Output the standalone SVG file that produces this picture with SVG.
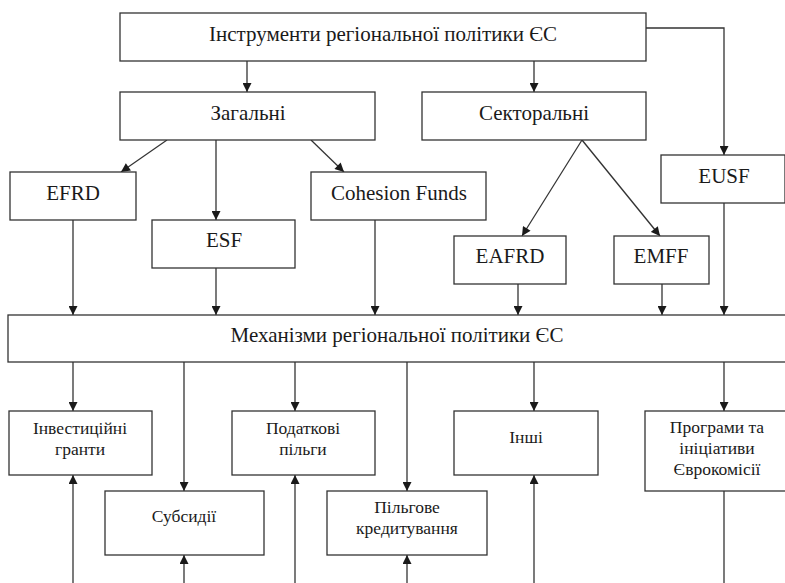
<svg xmlns="http://www.w3.org/2000/svg" width="785" height="583" viewBox="0 0 785 583">
<defs>
<marker id="ah" viewBox="0 0 10 10" refX="10" refY="5" markerWidth="10" markerHeight="9" markerUnits="userSpaceOnUse" orient="auto">
<path d="M0,0 L10,5 L0,10 z" fill="#1a1a1a"/>
</marker>
<style>
.b{fill:#fff;stroke:#333;stroke-width:1.3}
text{font-family:'Liberation Serif','DejaVu Serif',serif;fill:#1a1a1a;text-anchor:middle}
.t{font-size:21px}
.s{font-size:17.5px}
.c{fill:none;stroke:#333;stroke-width:1.3}
.a{marker-end:url(#ah)}
</style>
</defs>
<rect width="785" height="583" fill="#fff"/>
<g id="connectors">
<line class="c a" x1="247" y1="61" x2="247" y2="92"/>
<line class="c a" x1="534" y1="61" x2="534" y2="92"/>
<polyline class="c a" points="646,28 724,28 724,155"/>
<line class="c a" x1="167" y1="140" x2="121" y2="172"/>
<line class="c a" x1="216" y1="140" x2="216" y2="220"/>
<line class="c a" x1="311" y1="140" x2="344" y2="172"/>
<line class="c a" x1="582" y1="140" x2="522" y2="236"/>
<line class="c a" x1="582" y1="140" x2="660" y2="236"/>
<line class="c a" x1="73" y1="220" x2="73" y2="315"/>
<line class="c a" x1="216" y1="268" x2="216" y2="315"/>
<line class="c a" x1="375" y1="220" x2="375" y2="315"/>
<line class="c a" x1="518" y1="284" x2="518" y2="315"/>
<line class="c a" x1="662" y1="284" x2="662" y2="315"/>
<line class="c a" x1="724" y1="203" x2="724" y2="315"/>
<line class="c a" x1="73" y1="362" x2="73" y2="411"/>
<line class="c a" x1="184" y1="362" x2="184" y2="491"/>
<line class="c a" x1="295" y1="362" x2="295" y2="411"/>
<line class="c a" x1="407" y1="362" x2="407" y2="491"/>
<line class="c a" x1="534" y1="362" x2="534" y2="411"/>
<line class="c a" x1="724" y1="362" x2="724" y2="411"/>
<line class="c a" x1="73" y1="583" x2="73" y2="475"/>
<line class="c a" x1="184" y1="583" x2="184" y2="555"/>
<line class="c a" x1="295" y1="583" x2="295" y2="475"/>
<line class="c a" x1="407" y1="583" x2="407" y2="555"/>
<line class="c a" x1="534" y1="583" x2="534" y2="475"/>
<line class="c" x1="724" y1="491" x2="724" y2="583"/>
</g>
<g id="n-top"><rect class="b" x="120" y="13" width="526" height="48"/><text class="t" x="383" y="41">Інструменти регіональної політики ЄС</text></g>
<g id="n-zag"><rect class="b" x="120" y="92" width="255" height="48"/><text class="t" x="248" y="120">Загальні</text></g>
<g id="n-sek"><rect class="b" x="422" y="92" width="224" height="48"/><text class="t" x="534" y="120">Секторальні</text></g>
<g id="n-efrd"><rect class="b" x="10" y="172" width="126" height="48"/><text class="t" x="73" y="200">EFRD</text></g>
<g id="n-esf"><rect class="b" x="152" y="220" width="143" height="48"/><text class="t" x="224" y="247">ESF</text></g>
<g id="n-coh"><rect class="b" x="311" y="172" width="175" height="48"/><text class="t" x="399" y="200">Cohesion Funds</text></g>
<g id="n-eusf"><rect class="b" x="661" y="155" width="124" height="48"/><text class="t" x="724" y="183">EUSF</text></g>
<g id="n-eafrd"><rect class="b" x="454" y="236" width="112" height="48"/><text class="t" x="510" y="263">EAFRD</text></g>
<g id="n-emff"><rect class="b" x="614" y="236" width="95" height="48"/><text class="t" x="661" y="263">EMFF</text></g>
<g id="n-mech"><rect class="b" x="8" y="315" width="790" height="47"/><text class="t" x="397" y="342">Механізми регіональної політики ЄС</text></g>
<g id="n-inv"><rect class="b" x="9" y="411" width="143" height="64"/><text class="s" x="80" y="434">Інвестиційні</text><text class="s" x="80" y="455">гранти</text></g>
<g id="n-sub"><rect class="b" x="105" y="491" width="159" height="64"/><text class="s" x="184" y="522">Субсидії</text></g>
<g id="n-pod"><rect class="b" x="232" y="411" width="143" height="64"/><text class="s" x="303" y="434">Податкові</text><text class="s" x="303" y="455">пільги</text></g>
<g id="n-pil"><rect class="b" x="327" y="491" width="160" height="64"/><text class="s" x="407" y="513">Пільгове</text><text class="s" x="407" y="534">кредитування</text></g>
<g id="n-insh"><rect class="b" x="454" y="411" width="144" height="64"/><text class="s" x="526" y="443">Інші</text></g>
<g id="n-prog"><rect class="b" x="645" y="411" width="145" height="80"/><text class="s" x="717" y="433">Програми та</text><text class="s" x="717" y="454">ініціативи</text><text class="s" x="717" y="475">Єврокомісії</text></g>
</svg>
